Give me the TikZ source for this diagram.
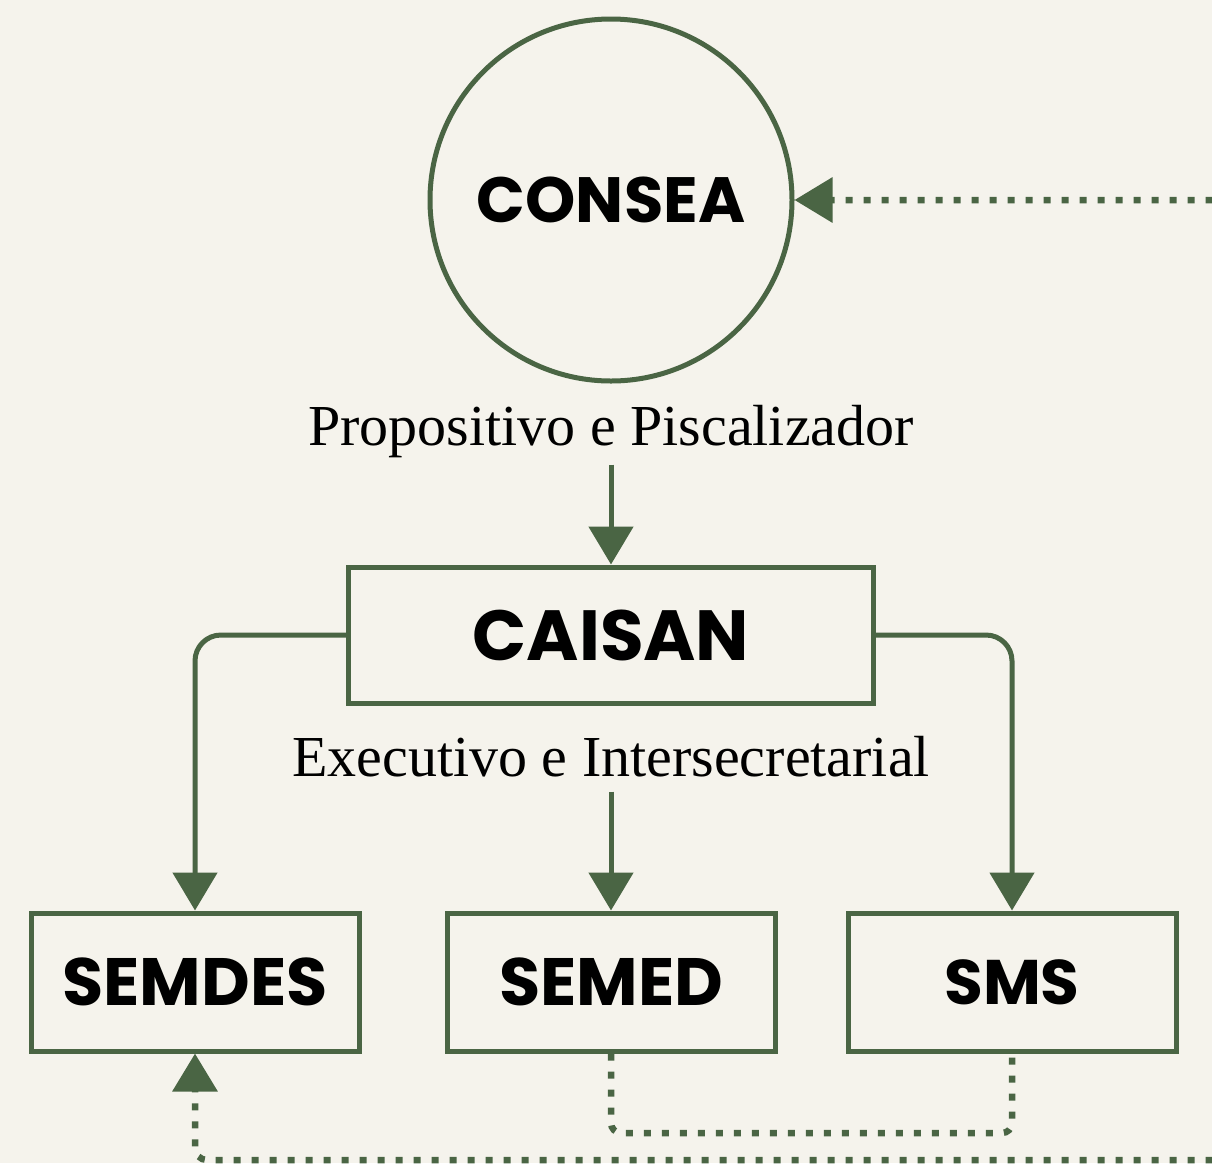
\documentclass[tikz,border=0pt]{standalone}
\usepackage{fontspec}
\setmainfont{Liberation Serif}
\newfontfamily\boxfont{Poppins}
\usetikzlibrary{arrows.meta}
\definecolor{bg}{RGB}{245,243,236}
\definecolor{grn}{RGB}{74,101,68}
\tikzset{
  boxnode/.style={draw=grn, line width=5pt, minimum width=328pt, minimum height=138pt, inner sep=0pt,
    font=\boxfont\bfseries\fontsize{67}{80}\selectfont},
  lbl/.style={inner sep=0pt, font=\fontsize{58}{70}\selectfont, text=black},
  arr/.style={draw=grn, line width=5pt, -{Triangle[width=44pt,length=38pt]}},
  dotline/.style={draw=grn, line width=6.5pt, dash pattern=on 7pt off 11pt},
  dotarr/.style={dotline, -{Triangle[width=44pt,length=38pt]}},
}
\begin{document}
\begin{tikzpicture}[x=1pt,y=-1pt]
\path[use as bounding box, fill=bg] (0,0) rectangle (1212,1163);
\clip (0,0) rectangle (1212,1163);
\node[circle, draw=grn, line width=5pt, minimum size=362pt, inner sep=0pt,
  font=\boxfont\bfseries\fontsize{64}{76}\selectfont] (consea) at (611,200) {CONSEA};
\node[lbl] (lab1) at (611,432) {Propositivo e Piscalizador};
\node[boxnode, minimum width=525pt, minimum height=136pt, font=\boxfont\bfseries\fontsize{71}{84}\selectfont] (caisan) at (611,635) {CAISAN};
\node[lbl] (lab2) at (611,757) {Executivo e Intersecretarial};
\node[boxnode] (semdes) at (195,982) {SEMDES};
\node[boxnode] (semed) at (611,982) {SEMED};
\node[boxnode, font=\boxfont\bfseries\fontsize{63}{76}\selectfont] (sms) at (1012,982) {SMS};
\coordinate (ubot) at (800,1133);
\coordinate (bstart) at (1230,1100);
\coordinate (bmid) at (600,1160);
\coordinate (tstart) at (1230,260);
% connectors
\draw[arr, shorten <=6pt] (lab1) -- (caisan);
\draw[arr, shorten <=14pt] (lab2.south) -- (semed);
\draw[arr, rounded corners=26pt] (caisan.west) -| (semdes.north);
\draw[arr, rounded corners=26pt] (caisan.east) -| (sms.north);
\draw[dotline, rounded corners=10pt] (semed.south) |- (ubot) -| (sms.south);
\draw[dotarr, rounded corners=12pt] (bstart) |- (bmid) -| (semdes.south);
\draw[dotarr, rounded corners=12pt] (tstart) |- (consea.east);
\end{tikzpicture}
\end{document}
